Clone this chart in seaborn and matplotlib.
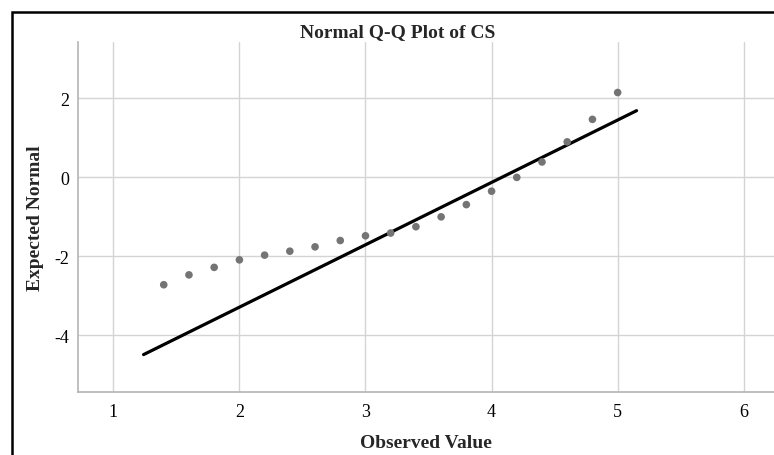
import matplotlib
matplotlib.use("Agg")
import matplotlib.pyplot as plt
import seaborn as sns
import pandas as pd
from matplotlib.patches import Rectangle

observed = [1.4, 1.6, 1.8, 2.0, 2.2, 2.4, 2.6, 2.8, 3.0, 3.2,
            3.4, 3.6, 3.8, 4.0, 4.2, 4.4, 4.6, 4.8, 5.0]
expected = [-2.72, -2.47, -2.28, -2.09, -1.97, -1.87, -1.76, -1.60, -1.48, -1.41,
            -1.25, -1.00, -0.69, -0.35, 0.00, 0.39, 0.90, 1.47, 2.15]
line_x = [1.24, 5.15]
line_y = [-4.49, 1.69]
x_ticks = [1, 2, 3, 4, 5, 6]
y_ticks = [-4, -2, 0, 2]

sns.set_theme(style="white")
plt.rcParams['font.family'] = ['Liberation Serif', 'DejaVu Serif']

fig = plt.figure(figsize=(7.74, 4.56), dpi=100)
ax = fig.add_axes([78/774, (456-392.7)/456, 1 - 78/774, (392.7-43)/456])

pts = pd.DataFrame({"Observed": observed, "Expected": expected})
ln = pd.DataFrame({"x": line_x, "y": line_y})

sns.lineplot(data=ln, x="x", y="y", color="black", linewidth=2.3, ax=ax, zorder=3)
sns.scatterplot(data=pts, x="Observed", y="Expected", color="#747474", s=30,
                edgecolor="none", ax=ax, zorder=4)

ax.set_xlim(0.72, 6.24)
ax.set_ylim(-5.43, 3.43)
ax.set_xticks(x_ticks)
ax.set_yticks(y_ticks)
ax.set_xticklabels([str(t) for t in x_ticks])
ax.set_yticklabels([str(t) for t in y_ticks])
ax.grid(True, color="#d4d4d4", linewidth=1.0)
ax.set_axisbelow(True)
ax.tick_params(axis="both", length=0, labelsize=13, colors="black")
ax.tick_params(axis="x", pad=8)
ax.tick_params(axis="y", pad=6)
for s in ["top", "right"]:
    ax.spines[s].set_visible(False)
for s in ["left", "bottom"]:
    ax.spines[s].set_color("#b4b4b4")
    ax.spines[s].set_linewidth(1.2)

ax.set_xlabel("Observed Value", fontsize=14, fontweight="bold", labelpad=10)
ax.set_ylabel("Expected Normal", fontsize=14, fontweight="bold", labelpad=8)
fig.text(398/774, (456-36.7)/456, "Normal Q-Q Plot of CS", fontsize=14,
         fontweight="bold", ha="center", va="baseline")

# outer frame (cropped on right and bottom)
fig.patches.append(Rectangle((12/774, -0.1), 1.2, (456-12.5)/456 + 0.1,
                             transform=fig.transFigure, fill=False,
                             edgecolor="black", linewidth=1.8, zorder=10))

fig.savefig("out.png", dpi=100)
